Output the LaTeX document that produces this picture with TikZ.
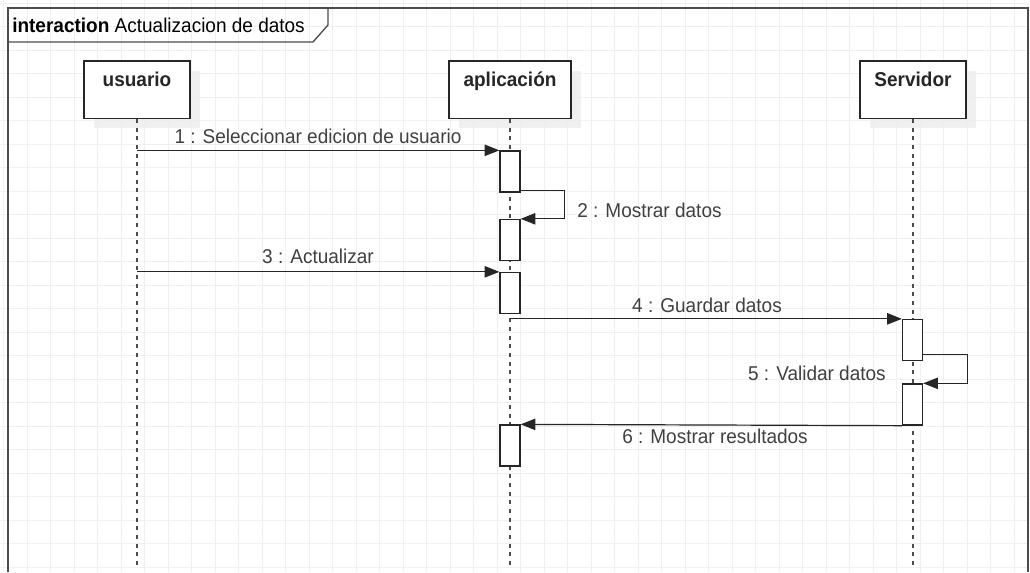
\documentclass[tikz,border=0pt]{standalone}
\usepackage{fontspec}
\setmainfont{Liberation Sans}[FakeStretch=0.95]
\usetikzlibrary{positioning,calc,arrows.meta,shadows}

\tikzset{
  gridline/.style={draw=black!6, line width=0.6pt},
  frame/.style={draw=black!70, line width=1pt},
  obj/.style={draw=black!85, line width=1pt, fill=white, minimum width=79.5pt, minimum height=43pt,
    font=\fontsize{15pt}{18pt}\selectfont\bfseries, text=black!85, text height=10pt, text depth=14.5pt,
    drop shadow={shadow xshift=7.5pt, shadow yshift=-7.5pt, fill=black!7, opacity=0.8}},
  act/.style={draw=black!85, line width=1pt, fill=white, minimum width=15pt, minimum height=30.75pt, inner sep=0pt},
  msg/.style={draw=black!85, line width=0.9pt, -{Triangle[length=11pt,width=8.5pt]}},
  life/.style={draw=black!70, line width=1.2pt, dash pattern=on 3pt off 3.5pt},
  lbl/.style={anchor=base, text=black!75, inner sep=0pt},
}

\begin{document}
\begin{tikzpicture}[x=0.75pt, y=-0.75pt, font=\fontsize{15pt}{18pt}\selectfont]
    \useasboundingbox (0,0) rectangle (1030,572);
    \fill[white] (0,0) rectangle (1030,572);
    % background grid
    \foreach \gx in {3.5,27,...,1030} \draw[gridline] (\gx,0) -- (\gx,572);
    \foreach \gy in {3,26.5,...,572} \draw[gridline] (0,\gy) -- (1030,\gy);

    % frame with title tab
    \draw[frame] (8,572) -- (8,8) -- (1028,8) -- (1028,572);
    \draw[frame] (8,42) -- (313,42) -- (328,25) -- (328,8);
    \node[anchor=base west, inner sep=0pt] (title) at (12,32) {\textbf{interaction} Actualizacion de datos};

    % lifelines
    \node[obj] (usuario) at (137,89.5) {usuario};
    \node[obj, minimum width=91.5pt] (aplicacion) at (510,89.5) {aplicación};
    \node[obj] (servidor) at (913,89.5) {Servidor};
    \draw[life] (usuario.south) -- ++(0,447);
    \draw[life] (aplicacion.south) -- ++(0,447);
    \draw[life] (servidor.south) -- ++(0,447);

    % activations
    \node[act] (a1) at (510,171.5) {};
    \node[act] (a2) at (510,240) {};
    \node[act] (a3) at (510,293) {};
    \node[act] (s4) at (912.5,340) {};
    \node[act] (s5) at (912.5,404.5) {};
    \node[act] (a6) at (510,445.5) {};

    % messages
    \draw[msg] (usuario.south |- a1.north) -- (a1.north west);
    \node[lbl] (m1) at (318,143) {1 : Seleccionar edicion de usuario};
    \draw[msg] ($(a1.south east)+(0,-2)$) -- ++(44,0) |- (a2.north east);
    \node[lbl, anchor=base west] (m2) at (577,217) {2 : Mostrar datos};
    \draw[msg] (usuario.south |- a3.north) -- (a3.north west);
    \node[lbl] (m3) at (318,263) {3 : Actualizar};
    \draw[msg] (aplicacion.south |- s4.north) -- (s4.north west);
    \node[lbl] (m4) at (707,312) {4 : Guardar datos};
    \draw[msg] ($(s4.south east)+(0,-7)$) -- ++(44,0) |- (s5.north east);
    \node[lbl, anchor=base east] (m5) at (886,380) {5 : Validar datos};
    \draw[msg] (s5.south west) -- (a6.north east);
    \node[lbl] (m6) at (715,443) {6 : Mostrar resultados};
\end{tikzpicture}
\end{document}
